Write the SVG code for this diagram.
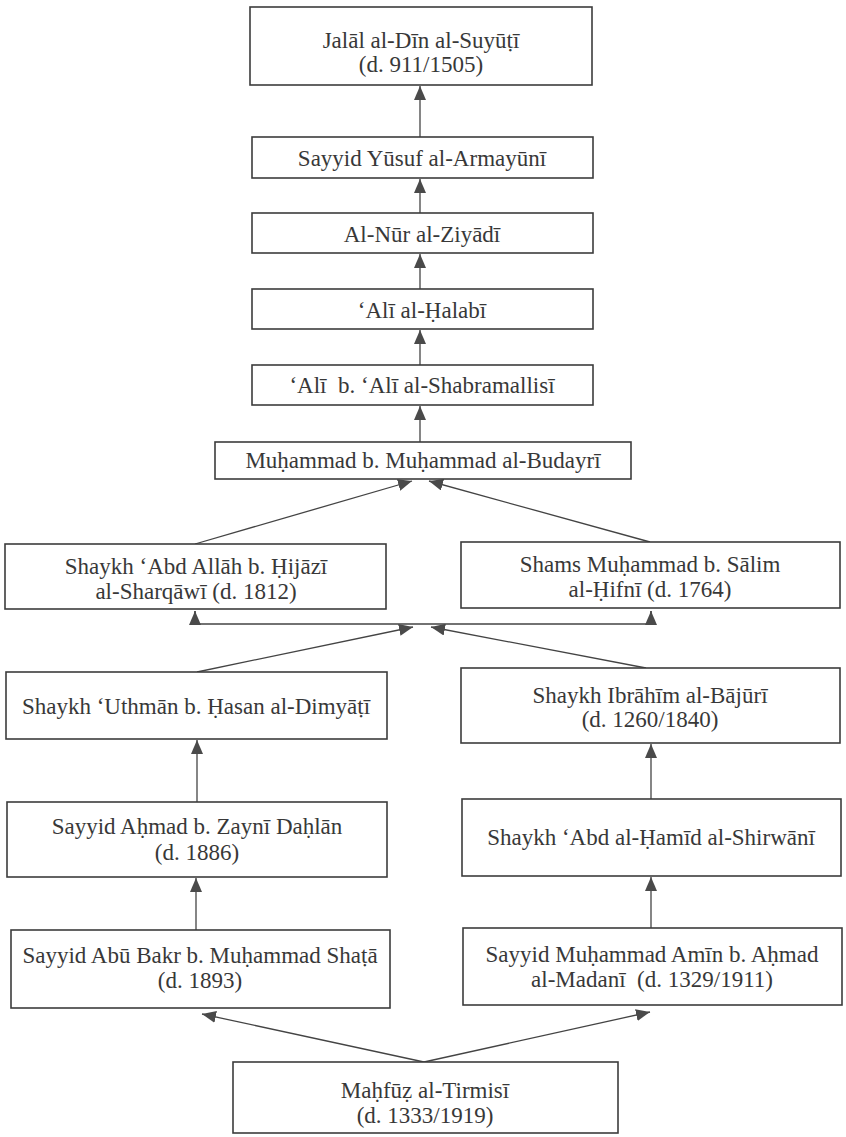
<svg xmlns="http://www.w3.org/2000/svg" width="846" height="1137" viewBox="0 0 846 1137">
<defs>
<style>
.box{fill:#ffffff;stroke:#3c3c3c;stroke-width:1.6}
.t{font-family:"Liberation Serif","Times New Roman",serif;font-size:23px;fill:#383838;text-anchor:middle}
.c{fill:none;stroke:#444444;stroke-width:1.3}
</style>
<marker id="ah" viewBox="0 0 14 12" refX="14" refY="6" markerWidth="14" markerHeight="12" markerUnits="userSpaceOnUse" orient="auto">
<path d="M0,0 L14,6 L0,12 Z" fill="#4a4a4a"/>
</marker>
</defs>
<rect width="846" height="1137" fill="#ffffff"/>

<g id="connectors">
<line class="c" x1="420" y1="137" x2="420" y2="86" marker-end="url(#ah)"/>
<line class="c" x1="420" y1="213" x2="420" y2="179" marker-end="url(#ah)"/>
<line class="c" x1="420" y1="289" x2="420" y2="254" marker-end="url(#ah)"/>
<line class="c" x1="420" y1="365" x2="420" y2="330" marker-end="url(#ah)"/>
<line class="c" x1="420" y1="442" x2="420" y2="406" marker-end="url(#ah)"/>
<line class="c" x1="195" y1="544" x2="412" y2="481" marker-end="url(#ah)"/>
<line class="c" x1="650" y1="542" x2="429" y2="481" marker-end="url(#ah)"/>
<polyline class="c" points="195,611 195,624 651,624 651,611"/>
<line class="c" x1="195" y1="624" x2="195" y2="611" marker-end="url(#ah)"/>
<line class="c" x1="651" y1="624" x2="651" y2="611" marker-end="url(#ah)"/>
<line class="c" x1="197" y1="672" x2="413" y2="627" marker-end="url(#ah)"/>
<line class="c" x1="646" y1="668" x2="431" y2="627" marker-end="url(#ah)"/>
<line class="c" x1="197" y1="802" x2="197" y2="740" marker-end="url(#ah)"/>
<line class="c" x1="651" y1="799" x2="651" y2="744" marker-end="url(#ah)"/>
<line class="c" x1="196" y1="930" x2="196" y2="878" marker-end="url(#ah)"/>
<line class="c" x1="651" y1="928" x2="651" y2="877" marker-end="url(#ah)"/>
<line class="c" x1="424" y1="1062" x2="202" y2="1014" marker-end="url(#ah)"/>
<line class="c" x1="424" y1="1062" x2="650" y2="1012" marker-end="url(#ah)"/>
</g>

<g id="suyuti">
<rect class="box" x="250" y="7" width="342" height="78"/>
<text class="t" x="421" y="48">Jalāl al-Dīn al-Suyūṭī</text>
<text class="t" x="421" y="72">(d. 911/1505)</text>
</g>
<g id="armayuni">
<rect class="box" x="252" y="137" width="341" height="41"/>
<text class="t" x="422" y="166">Sayyid Yūsuf al-Armayūnī</text>
</g>
<g id="ziyadi">
<rect class="box" x="252" y="213" width="341" height="40"/>
<text class="t" x="422" y="242">Al-Nūr al-Ziyādī</text>
</g>
<g id="halabi">
<rect class="box" x="252" y="289" width="341" height="40"/>
<text class="t" x="422" y="318">‘Alī al-Ḥalabī</text>
</g>
<g id="shabramallisi">
<rect class="box" x="252" y="365" width="341" height="40"/>
<text class="t" x="422" y="393" xml:space="preserve">‘Alī  b. ‘Alī al-Shabramallisī</text>
</g>
<g id="budayri">
<rect class="box" x="215" y="442" width="416" height="37"/>
<text class="t" x="423" y="468">Muḥammad b. Muḥammad al-Budayrī</text>
</g>
<g id="sharqawi">
<rect class="box" x="5" y="544" width="381" height="65"/>
<text class="t" x="196" y="574">Shaykh ‘Abd Allāh b. Ḥijāzī</text>
<text class="t" x="196" y="599">al-Sharqāwī (d. 1812)</text>
</g>
<g id="hifni">
<rect class="box" x="461" y="542" width="379" height="66"/>
<text class="t" x="650" y="572">Shams Muḥammad b. Sālim</text>
<text class="t" x="650" y="597">al-Ḥifnī (d. 1764)</text>
</g>
<g id="dimyati">
<rect class="box" x="6" y="672" width="381" height="67"/>
<text class="t" x="196" y="714">Shaykh ‘Uthmān b. Ḥasan al-Dimyāṭī</text>
</g>
<g id="bajuri">
<rect class="box" x="461" y="668" width="379" height="75"/>
<text class="t" x="650" y="703">Shaykh Ibrāhīm al-Bājūrī</text>
<text class="t" x="650" y="727">(d. 1260/1840)</text>
</g>
<g id="dahlan">
<rect class="box" x="7" y="802" width="380" height="75"/>
<text class="t" x="197" y="834">Sayyid Aḥmad b. Zaynī Daḥlān</text>
<text class="t" x="197" y="860">(d. 1886)</text>
</g>
<g id="shirwani">
<rect class="box" x="462" y="799" width="379" height="77"/>
<text class="t" x="651" y="845">Shaykh ‘Abd al-Ḥamīd al-Shirwānī</text>
</g>
<g id="shata">
<rect class="box" x="11" y="930" width="379" height="78"/>
<text class="t" x="200" y="963">Sayyid Abū Bakr b. Muḥammad Shaṭā</text>
<text class="t" x="200" y="988">(d. 1893)</text>
</g>
<g id="madani">
<rect class="box" x="463" y="928" width="379" height="77"/>
<text class="t" x="652" y="962">Sayyid Muḥammad Amīn b. Aḥmad</text>
<text class="t" x="652" y="987" xml:space="preserve">al-Madanī  (d. 1329/1911)</text>
</g>
<g id="tirmisi">
<rect class="box" x="233" y="1062" width="385" height="71"/>
<text class="t" x="425" y="1098">Maḥfūẓ al-Tirmisī</text>
<text class="t" x="425" y="1123">(d. 1333/1919)</text>
</g>
</svg>
